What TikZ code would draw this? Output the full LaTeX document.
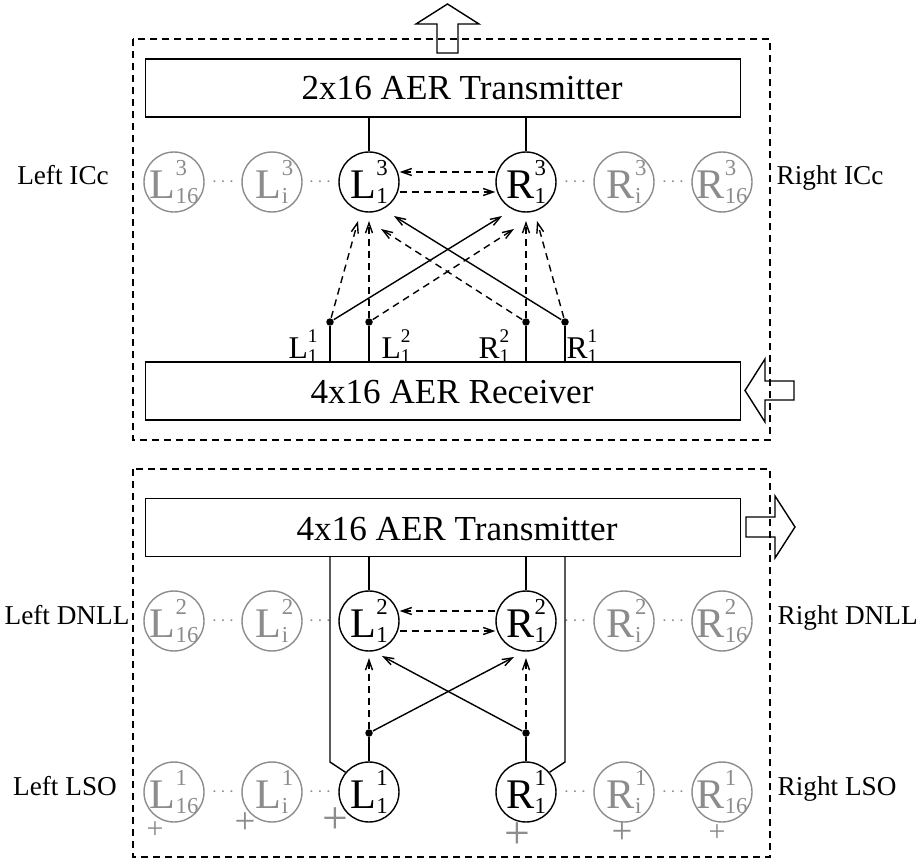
\documentclass[tikz,border=0pt]{standalone}
\usepackage{fontspec}
\setmainfont{Liberation Serif}
\usetikzlibrary{arrows.meta,calc}
\definecolor{nrngray}{RGB}{140,140,140}
% neuron label: big letter, stacked layer index and neuron index
\newcommand{\nrn}[3]{{\fontsize{24}{24}\selectfont #1}\kern.2pt\rlap{\raisebox{13pt}{\fontsize{13}{13}\selectfont #2}}\raisebox{-2.5pt}{\fontsize{13}{13}\selectfont #3}}
% small label on the receiver taps
\newcommand{\tap}[3]{{\fontsize{18}{18}\selectfont #1}\rlap{\raisebox{9.5pt}{\fontsize{11}{11}\selectfont #2}}\raisebox{-2pt}{\fontsize{11}{11}\selectfont #3}}
\begin{document}
\begin{tikzpicture}[x=0.02cm,y=-0.02cm,line width=0.8pt,
  >={Straight Barb[length=0.2cm,width=0.14cm]},
  nrn/.style={circle,draw,minimum size=1.2cm,inner sep=-4pt},
  grynrn/.style={nrn,draw=nrngray,text=nrngray},
  aer/.style={draw,line width=0.6pt,minimum width=11.92cm,minimum height=1.16cm,inner sep=0pt},
  aertxt/.style={anchor=base,inner sep=0pt,font=\fontsize{20}{24}\selectfont},
  side/.style={anchor=base,inner sep=0pt,font=\fontsize{15.5}{18}\selectfont},
  dsh/.style={dash pattern=on 0.14cm off 0.1cm},
  cellbox/.style={dsh,line width=0.9pt},
  jct/.style={circle,fill,inner sep=0pt,minimum size=0.15cm},
  dts/.style={text=nrngray,inner sep=0pt,font=\fontsize{11}{11}\selectfont},
  pls/.style={text=nrngray,inner sep=0pt},
  bigarrow/.style={line width=0.8pt,line join=miter}]
\useasboundingbox (0,0) rectangle (919,861);

% the two chips
\draw[cellbox] (133,39) rectangle (770,440);
\draw[cellbox] (133,469) rectangle (770,857);

\node[aer] (tx3) at (443,88) {};
\node[aertxt] (tx3txt) at (462,100) {2x16 AER Transmitter};
\node[aer] (rx) at (443,391) {};
\node[aertxt] (rxtxt) at (452,403) {4x16 AER Receiver};
\node[aer] (tx2) at (443,527.5) {};
\node[aertxt] (tx2txt) at (457,540) {4x16 AER Transmitter};

% three rows of neurons
\foreach \rw/\y in {3/182,2/621,1/792} {
  \node[grynrn] (L\rw-16) at (174,\y) {\nrn{L}{\rw}{16}};
  \node[grynrn] (L\rw-i) at (272,\y) {\nrn{L}{\rw}{i}};
  \node[nrn] (L\rw-1) at (369,\y) {\nrn{L}{\rw}{1}};
  \node[nrn] (R\rw-1) at (526,\y) {\nrn{R}{\rw}{1}};
  \node[grynrn] (R\rw-i) at (624,\y) {\nrn{R}{\rw}{i}};
  \node[grynrn] (R\rw-16) at (722,\y) {\nrn{R}{\rw}{16}};
  \foreach \x in {223,320,575,673}
    \node[dts] (d\rw-\x) at (\x,\y) {$\cdots$};
}

% row names
\node[side] (lICc) at (63,185) {Left ICc};
\node[side,anchor=base west] (rICc) at (776,185) {Right ICc};
\node[side] (lDNLL) at (67,624) {Left DNLL};
\node[side,anchor=base west] (rDNLL) at (777,624) {Right DNLL};
\node[side] (lLSO) at (65,795) {Left LSO};
\node[side,anchor=base west] (rLSO) at (777,795) {Right LSO};

% excitatory inputs of the LSO
\node[pls,font=\fontsize{17}{17}\selectfont] (p1) at (155,830) {+};
\node[pls,font=\fontsize{21}{21}\selectfont] (p2) at (245,823) {+};
\node[pls,font=\fontsize{26}{26}\selectfont] (p3) at (335,821) {+};
\node[pls,font=\fontsize{26}{26}\selectfont] (p4) at (517,836) {+};
\node[pls,font=\fontsize{21}{21}\selectfont] (p5) at (622,833) {+};
\node[pls,font=\fontsize{17}{17}\selectfont] (p6) at (717,833) {+};

% ICc: transmitter and mutual links
\draw (tx3.south -| L3-1) -- (L3-1);
\draw (tx3.south -| R3-1) -- (R3-1);
\draw[dsh,->] ($(R3-1.west)+(0,-10)$) -- ($(L3-1.east)+(0,-10)$);
\draw[dsh,->] ($(L3-1.east)+(0,10)$) -- ($(R3-1.west)+(0,10)$);

% receiver taps
\node[jct] (a11) at (330,322) {};
\node[jct] (a12) at (369,322) {};
\node[jct] (r12) at (526,322) {};
\node[jct] (r11) at (565,322) {};
\foreach \t in {a11,a12,r12,r11}
  \draw (\t) -- (\t |- rx.north);
\node (tL11) at (303,346) {\tap{L}{1}{1}};
\node (tL12) at (396,346) {\tap{L}{2}{1}};
\node (tR12) at (494,346) {\tap{R}{2}{1}};
\node (tR11) at (582,346) {\tap{R}{1}{1}};

\coordinate (iL1) at ($(L3-1)+(-11,39)$);
\coordinate (iL2) at ($(L3-1)+(0,39)$);
\coordinate (iL3) at ($(L3-1)+(12,47)$);
\coordinate (iL4) at ($(L3-1)+(25,34)$);
\coordinate (iR1) at ($(R3-1)+(-24,34)$);
\coordinate (iR2) at ($(R3-1)+(-12,47)$);
\coordinate (iR3) at ($(R3-1)+(0,39)$);
\coordinate (iR4) at ($(R3-1)+(11,39)$);
\draw[dsh,->] (a11) -- (iL1);
\draw[->] (a11) -- (iR1);
\draw[dsh,->] (a12) -- (iL2);
\draw[dsh,->] (a12) -- (iR2);
\draw[dsh,->] (r12) -- (iR3);
\draw[dsh,->] (r12) -- (iL3);
\draw[->] (r11) -- (iL4);
\draw[dsh,->] (r11) -- (iR4);

% DNLL and LSO
\draw (tx2.south -| L2-1) -- (L2-1);
\draw (tx2.south -| R2-1) -- (R2-1);
\draw[dsh,->] ($(R2-1.west)+(0,-10)$) -- ($(L2-1.east)+(0,-10)$);
\draw[dsh,->] ($(L2-1.east)+(0,10)$) -- ($(R2-1.west)+(0,10)$);

\coordinate (kL) at (330,762);
\coordinate (kR) at (565,762);
\draw (tx2.south -| kL) -- (kL) -- (L1-1.140);
\draw (tx2.south -| kR) -- (kR) -- (R1-1.40);

\node[jct] (b1) at (369,733) {};
\node[jct] (b2) at (526,733) {};
\draw (L1-1) -- (b1);
\draw (R1-1) -- (b2);
\coordinate (jL1) at ($(L2-1)+(0,37)$);
\coordinate (jL2) at ($(L2-1)+(13,35)$);
\coordinate (jR1) at ($(R2-1)+(-12,36)$);
\coordinate (jR2) at ($(R2-1)+(0,37)$);
\draw[dsh,->] (b1) -- (jL1);
\draw[->] (b1) -- (jR1);
\draw[->] (b2) -- (jL2);
\draw[dsh,->] (b2) -- (jR2);

% event buses in and out
\draw[bigarrow] (437,53) -- (437,24) -- (416,24) -- (447.5,4) -- (479,24) -- (458,24) -- (458,53) -- cycle;
\draw[bigarrow] (794,381) -- (765,381) -- (765,359) -- (745,390.5) -- (765,422) -- (765,400) -- (794,400) -- cycle;
\draw[bigarrow] (746,517) -- (775,517) -- (775,496) -- (795,527) -- (775,558) -- (775,537) -- (746,537) -- cycle;
\end{tikzpicture}
\end{document}
